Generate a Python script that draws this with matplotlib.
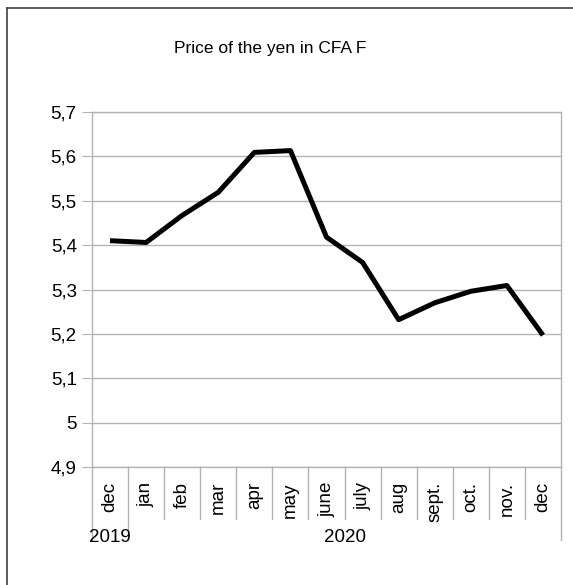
import matplotlib
matplotlib.use('Agg')
import matplotlib.pyplot as plt
import matplotlib.transforms as mtransforms
from matplotlib.lines import Line2D
from matplotlib.ticker import FuncFormatter

plt.rcParams['font.family'] = ['Liberation Sans', 'DejaVu Sans']

months = ['dec', 'jan', 'feb', 'mar', 'apr', 'may', 'june', 'july', 'aug',
          'sept.', 'oct.', 'nov.', 'dec']
years = ['2019', '2020']
year_spans = [(0, 0), (1, 12)]  # first and last month index of each year
prices = [5.410, 5.406, 5.467, 5.519, 5.609, 5.613, 5.418, 5.361, 5.232,
          5.270, 5.296, 5.309, 5.197]
yticks = [4.9, 5.0, 5.1, 5.2, 5.3, 5.4, 5.5, 5.6, 5.7]

W, H = 573, 585
fig = plt.figure(figsize=(W / 100, H / 100), dpi=100)
fig.patch.set_facecolor('white')

# plot area in pixels
x0, x1, ytop, ybot = 92, 561, 112, 467
ax = fig.add_axes([x0 / W, 1 - ybot / H, (x1 - x0) / W, (ybot - ytop) / H])
ph = ybot - ytop

grid = '#b3b3b3'
ax.plot(range(len(prices)), prices, color='black', lw=3.6,
        solid_joinstyle='round', solid_capstyle='butt', zorder=3)

ax.set_xlim(-0.5, len(months) - 0.5)
ax.set_ylim(yticks[0], yticks[-1])
ax.set_yticks(yticks)
ax.yaxis.set_major_formatter(FuncFormatter(
    lambda v, p: ('%g' % round(v, 1)).replace('.', ',')))
ax.grid(axis='y', color=grid, lw=1)
ax.set_axisbelow(True)
for s in ax.spines.values():
    s.set_color(grid)
    s.set_linewidth(1)
ax.tick_params(axis='y', length=7, color=grid, labelsize=13.5, pad=4)
ax.set_xticks([])

trans = mtransforms.blended_transform_factory(ax.transData, ax.transAxes)

# month separators and labels
sep_short = -(519 - ybot) / ph
sep_long = -(540 - ybot) / ph
boundaries = set()
for a, b in year_spans:
    boundaries.add(a - 0.5)
    boundaries.add(b + 0.5)
for i in range(len(months) + 1):
    xb = i - 0.5
    yb = sep_long if xb in boundaries else sep_short
    ax.plot([xb, xb], [0, yb], color=grid, lw=1, transform=trans, clip_on=False)
for i, m in enumerate(months):
    ax.text(i, -(482 - ybot) / ph, m, rotation=90, ha='center', va='top',
            fontsize=13.5, transform=trans)

# year labels
for yr, (a, b) in zip(years, year_spans):
    ax.text((a + b) / 2, -(538 - ybot) / ph, yr, ha='center', va='center',
            fontsize=13.5, transform=trans)

fig.text(270 / W, 1 - 49 / H, 'Price of the yen in CFA F', ha='center',
         va='center', fontsize=12.5)

# outer frame (right and bottom edges are outside the image)
fig.add_artist(Line2D([7 / W, 7 / W], [0, 1 - 8 / H], color='#404040', lw=1.2))
fig.add_artist(Line2D([7 / W, 1], [1 - 8 / H, 1 - 8 / H], color='#404040', lw=1.2))

fig.savefig('out.png', dpi=100)
